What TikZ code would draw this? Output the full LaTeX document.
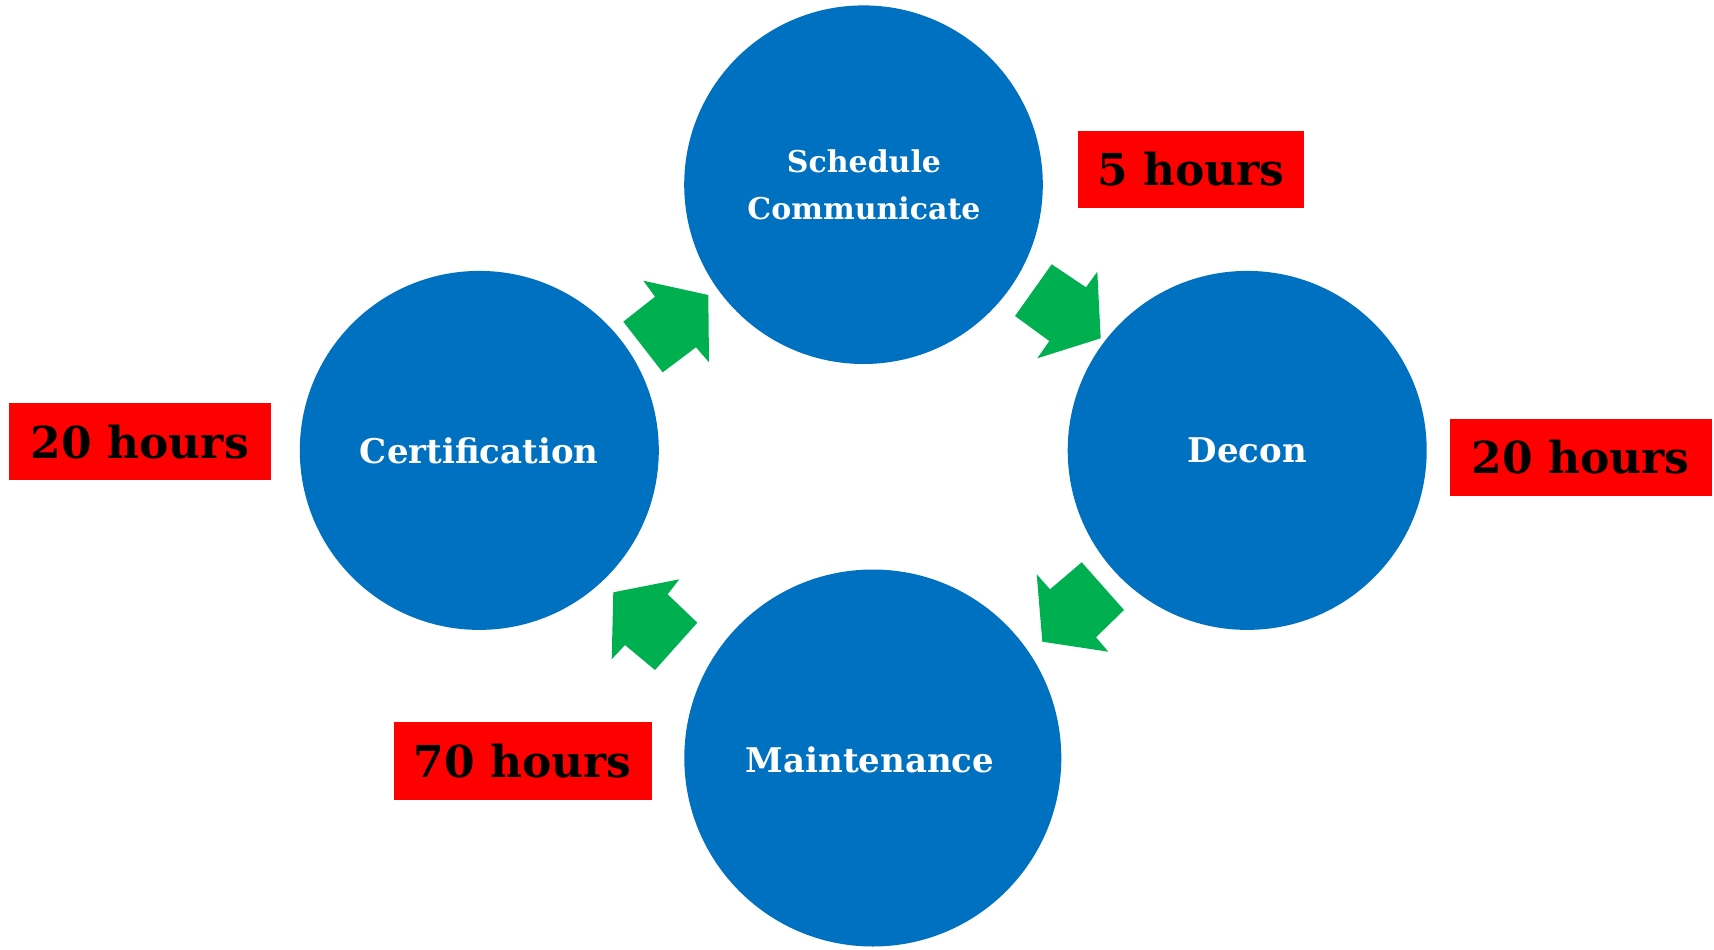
\documentclass[tikz,border=0pt]{standalone}
\usepackage{fontspec}
\setmainfont{DejaVu Serif}
\definecolor{cblue}{HTML}{0070C0}
\definecolor{cgreen}{HTML}{00B050}
\definecolor{cred}{HTML}{FF0000}
\begin{document}
\begin{tikzpicture}[x=1pt,y=-1pt,
  stage/.style={circle,fill=cblue,inner sep=0pt},
  stagetxt/.style={text=white,font=\bfseries\fontsize{34}{40}\selectfont,align=center},
  hourbox/.style={rectangle,fill=cred,inner sep=0pt,text=black,font=\bfseries\fontsize{44}{50}\selectfont},
  flow/.style={fill=cgreen,draw=none}]
\useasboundingbox (0,0) rectangle (1714,950);
% circles
\node[stage,minimum size=358.6pt] (sched) at (863.5,184.7) {};
\node[stage,minimum size=359pt] (cert) at (479.3,450.4) {};
\node[stage,minimum size=359pt] (decon) at (1247.2,450.4) {};
\node[stage,minimum size=377pt] (maint) at (872.8,758) {};
% labels
\node[stagetxt,font=\bfseries\fontsize{30}{47}\selectfont] (schedtxt) at (864,185) {Schedule\\Communicate};
\node[stagetxt] (certtxt) at (cert.center) {Certification};
\node[stagetxt] (decontxt) at (decon.center) {Decon};
\node[stagetxt] (mainttxt) at (870,760) {Maintenance};
% hour boxes
\node[hourbox,minimum width=226pt,minimum height=76.5pt] (h5) at (1191,169.5) {5 hours};
\node[hourbox,minimum width=262pt,minimum height=77.6pt] (h20r) at (1580.6,457.5) {20 hours};
\node[hourbox,minimum width=262.4pt,minimum height=76.5pt] (h20l) at (139.9,441.6) {20 hours};
\node[hourbox,minimum width=258pt,minimum height=77.7pt] (h70) at (522.5,761.3) {70 hours};
% green block arrows
\fill[flow] (623.3,321.7) -- (662.7,372.3) -- (696,347.3) -- (709,362.3) -- (708.3,295) -- (643.3,280.7) -- (655,296.7) -- cycle;
\fill[flow] (1015,316) -- (1051.7,264.3) -- (1086,287.3) -- (1097.3,271.7) -- (1100.7,338.3) -- (1037.3,358.3) -- (1049.3,341) -- cycle;
\fill[flow] (1081.7,562.3) -- (1124,610) -- (1096,637.3) -- (1108.3,651.7) -- (1042.3,641.7) -- (1036.7,574.3) -- (1050,589.3) -- cycle;
\fill[flow] (697.3,622.7) -- (655,670) -- (625,645) -- (611.7,659.3) -- (613.3,592.3) -- (679.3,579.3) -- (667.7,594.3) -- cycle;
\end{tikzpicture}
\end{document}
